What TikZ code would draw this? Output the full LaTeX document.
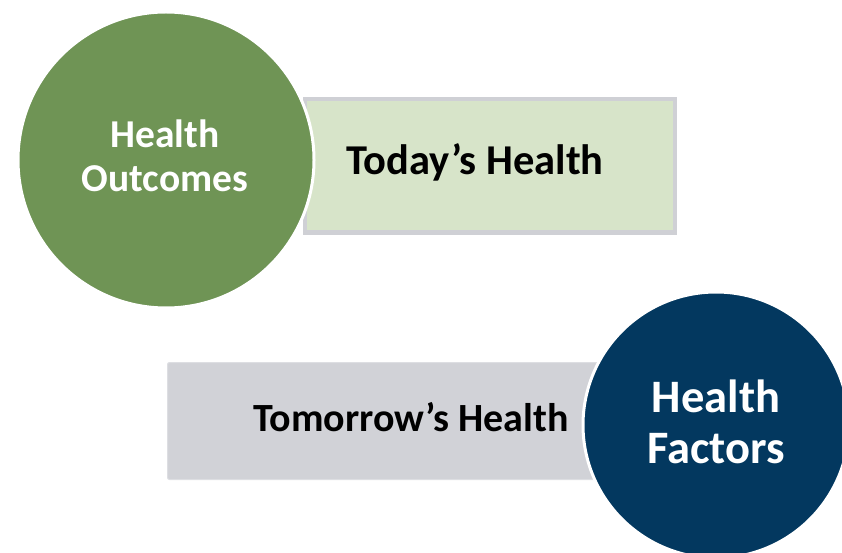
\documentclass[tikz,border=0pt]{standalone}
\usepackage{fontspec}
\setmainfont{Carlito}
\definecolor{hogreen}{HTML}{6F9455}
\definecolor{lightgreen}{HTML}{D7E4C9}
\definecolor{boxborder}{HTML}{CFD0D5}
\definecolor{lightgray}{HTML}{D1D2D7}
\definecolor{hfblue}{HTML}{03385F}
\begin{document}
\begin{tikzpicture}[x=1pt,y=-1pt,
  bigcircle/.style={circle, draw=white, line width=3pt, inner sep=0pt},
  barbox/.style={rectangle, inner sep=0pt, anchor=north west},
  bartext/.style={font=\bfseries\fontsize{42.5}{50}\selectfont, text=black, anchor=base},
  circtext/.style={align=center, text=white, anchor=base}
]
\useasboundingbox (0,0) rectangle (842,553);
\begin{scope}
\clip (0,0) rectangle (842,553);
% top bar
\node[barbox, fill=lightgreen, draw=boxborder, line width=4.5pt, minimum width=370pt, minimum height=133pt] (todaybox) at (302.5,97) {};
% green circle
\node[bigcircle, fill=hogreen, minimum size=296pt] (outcomes) at (166,160) {};
% bottom bar
\node[barbox, fill=lightgray, draw=boxborder!70!white, line width=1pt, rounded corners=2pt, minimum width=460pt, minimum height=117pt] (tomorrowbox) at (167,362) {};
% blue circle
\node[bigcircle, fill=hfblue, minimum size=266pt] (factors) at (716,425) {};
\end{scope}
% texts
\node[bartext] (todaytext) at (475,175) {Today’s Health};
\node[bartext, font=\bfseries\fontsize{40}{48}\selectfont] (tomorrowtext) at (411,431) {Tomorrow’s Health};
\node[circtext, font=\bfseries\fontsize{39.5}{46}\selectfont] (ho1) at (165,148) {Health};
\node[circtext, font=\bfseries\fontsize{39.5}{46}\selectfont] (ho2) at (165,192) {Outcomes};
\node[circtext, font=\bfseries\fontsize{46.5}{54}\selectfont] (hf1) at (716,412) {Health};
\node[circtext, font=\bfseries\fontsize{46.5}{54}\selectfont] (hf2) at (716,463) {Factors};
\end{tikzpicture}
\end{document}
